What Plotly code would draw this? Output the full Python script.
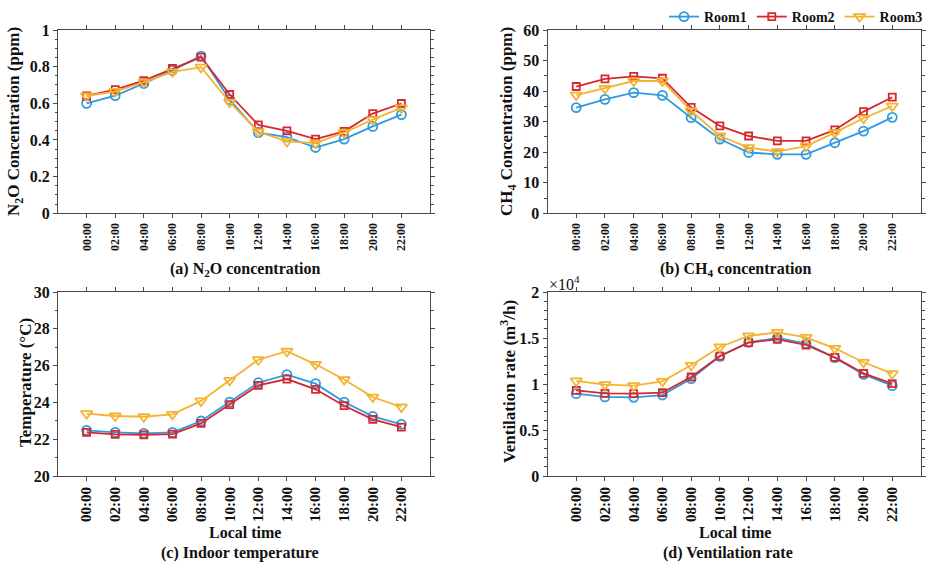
import plotly.graph_objects as go

times = ["00:00", "02:00", "04:00", "06:00", "08:00", "10:00",
         "12:00", "14:00", "16:00", "18:00", "20:00", "22:00"]
rooms = ["Room1", "Room2", "Room3"]

# (a) N2O concentration (ppm)
n2o_room1 = [0.600, 0.642, 0.708, 0.780, 0.858, 0.620, 0.440, 0.416, 0.359, 0.405, 0.474, 0.538]
n2o_room2 = [0.640, 0.675, 0.724, 0.790, 0.852, 0.648, 0.482, 0.450, 0.405, 0.447, 0.544, 0.599]
n2o_room3 = [0.640, 0.665, 0.715, 0.772, 0.797, 0.606, 0.445, 0.392, 0.383, 0.441, 0.511, 0.575]

# (b) CH4 concentration (ppm)
ch4_room1 = [34.6, 37.3, 39.5, 38.6, 31.3, 24.3, 19.9, 19.3, 19.3, 23.1, 26.9, 31.4]
ch4_room2 = [41.5, 44.0, 44.8, 44.2, 34.7, 28.6, 25.3, 23.7, 23.7, 27.3, 33.3, 38.0]
ch4_room3 = [38.7, 40.9, 43.3, 43.3, 33.5, 25.3, 21.5, 20.2, 22.0, 26.4, 31.1, 35.1]

# (c) Indoor temperature (degC)
temp_room1 = [22.48, 22.37, 22.32, 22.37, 22.99, 24.02, 25.07, 25.51, 25.02, 24.02, 23.24, 22.81]
temp_room2 = [22.37, 22.26, 22.23, 22.28, 22.86, 23.88, 24.93, 25.27, 24.71, 23.82, 23.08, 22.66]
temp_room3 = [23.39, 23.26, 23.22, 23.35, 24.08, 25.20, 26.32, 26.78, 26.07, 25.24, 24.29, 23.75]

# (d) Ventilation rate (m3/h)
vent_room1 = [8950, 8590, 8550, 8800, 10580, 13010, 14530, 15000, 14380, 12860, 11050, 9820]
vent_room2 = [9310, 8990, 8950, 9060, 10760, 13040, 14490, 14860, 14240, 12900, 11160, 10040]
vent_room3 = [10330, 9930, 9820, 10290, 12030, 14020, 15220, 15620, 15070, 13880, 12360, 11120]
vent_scale = 1e4

colors = ["#2E9BDE", "#D6282D", "#F4B330"]
symbols = ["circle-open", "square-open", "triangle-down-open"]
msizes = [9, 7, 10]

FONT = "Liberation Serif"
AX = "#4a4a4a"

fig = go.Figure()
xs = list(range(len(times)))

panels = [
    ([n2o_room1, n2o_room2, n2o_room3], "x", "y", 1.0),
    ([ch4_room1, ch4_room2, ch4_room3], "x2", "y2", 1.0),
    ([temp_room1, temp_room2, temp_room3], "x3", "y3", 1.0),
    ([vent_room1, vent_room2, vent_room3], "x4", "y4", vent_scale),
]
for p, (series, xa, ya, sc) in enumerate(panels):
    for i, s in enumerate(series):
        fig.add_trace(go.Scatter(
            x=xs, y=[v / sc for v in s], xaxis=xa, yaxis=ya,
            mode="lines+markers", name=rooms[i], showlegend=(p == 1),
            line=dict(color=colors[i], width=1.8),
            marker=dict(symbol=symbols[i], size=msizes[i], color=colors[i],
                        line=dict(width=1.8, color=colors[i])),
        ))

W, H = 930, 568
xd_left = [58 / W, 430 / W]
xd_right = [547.5 / W, 921 / W]
yd_top = [1 - 213.3 / H, 1 - 30 / H]
yd_bot = [1 - 476 / H, 1 - 292 / H]


def xax(domain, anchor, fsize):
    return dict(domain=domain, anchor=anchor, range=[-1, 12],
                tickmode="array", tickvals=xs, ticktext=times, tickangle=-90,
                ticks="outside", ticklen=4, tickcolor=AX, showline=True,
                linecolor=AX, linewidth=1, mirror="ticks", showgrid=False,
                zeroline=False, automargin=False,
                tickfont=dict(family=FONT, size=fsize, color="#111", weight="bold"))


def yax(domain, anchor, rng, dtick, minor):
    return dict(domain=domain, anchor=anchor, range=rng, dtick=dtick,
                tick0=0, ticks="outside", ticklen=4, tickcolor=AX,
                showline=True, linecolor=AX, linewidth=1, mirror="ticks",
                showgrid=False, zeroline=False, automargin=False,
                minor=dict(dtick=minor, ticks="outside", ticklen=2.5,
                           tickcolor=AX, showgrid=False),
                tickfont=dict(family=FONT, size=16, color="#111", weight="bold"))


fig.update_layout(
    width=W, height=H, margin=dict(l=0, r=0, t=0, b=0),
    paper_bgcolor="white", plot_bgcolor="white",
    xaxis=xax(xd_left, "y", 12), yaxis=yax(yd_top, "x", [0, 1], 0.2, 0.05),
    xaxis2=xax(xd_right, "y2", 12), yaxis2=yax(yd_top, "x2", [0, 60], 10, 5),
    xaxis3=xax(xd_left, "y3", 15), yaxis3=yax(yd_bot, "x3", [20, 30], 2, 1),
    xaxis4=xax(xd_right, "y4", 15), yaxis4=yax(yd_bot, "x4", [0, 2], 0.5, 0.1),
    legend=dict(orientation="h", x=928 / W, xanchor="right", y=1 - 1 / H,
                yanchor="top", itemwidth=30, bgcolor="rgba(0,0,0,0)",
                font=dict(family=FONT, size=14, color="#111", weight="bold"),
                tracegroupgap=0),
)

bold = dict(family=FONT, size=16, color="#111", weight="bold")
ytitle = dict(family=FONT, size=17, color="#111", weight="bold")
ann = [
    dict(text="N<sub>2</sub>O Concentration (ppm)", x=15 / W, y=1 - 122 / H, textangle=-90, font=ytitle),
    dict(text="CH<sub>4</sub> Concentration (ppm)", x=508 / W, y=1 - 122 / H, textangle=-90, font=ytitle),
    dict(text="Temperature (°C)", x=25 / W, y=1 - 383 / H, textangle=-90, font=ytitle),
    dict(text="Ventilation rate (m<sup>3</sup>/h)", x=508 / W, y=1 - 382 / H, textangle=-90, font=ytitle),
    dict(text="(a) N<sub>2</sub>O concentration", x=245 / W, y=1 - 270 / H, font=bold),
    dict(text="(b) CH<sub>4</sub> concentration", x=735 / W, y=1 - 270 / H, font=bold),
    dict(text="Local time", x=245 / W, y=1 - 532 / H, font=bold),
    dict(text="Local time", x=735 / W, y=1 - 532 / H, font=bold),
    dict(text="(c) Indoor temperature", x=240 / W, y=1 - 553 / H, font=bold),
    dict(text="(d) Ventilation rate", x=728 / W, y=1 - 553 / H, font=bold),
]
for a in ann:
    fig.add_annotation(xref="paper", yref="paper", showarrow=False,
                       xanchor="center", yanchor="middle", **a)

fig.add_annotation(xref="paper", yref="paper", showarrow=False,
                   x=547 / W, y=1 - 283 / H, xanchor="left", yanchor="middle",
                   text="×10<sup>4</sup>",
                   font=dict(family=FONT, size=16, color="#111"))

fig.write_html("out.html")
